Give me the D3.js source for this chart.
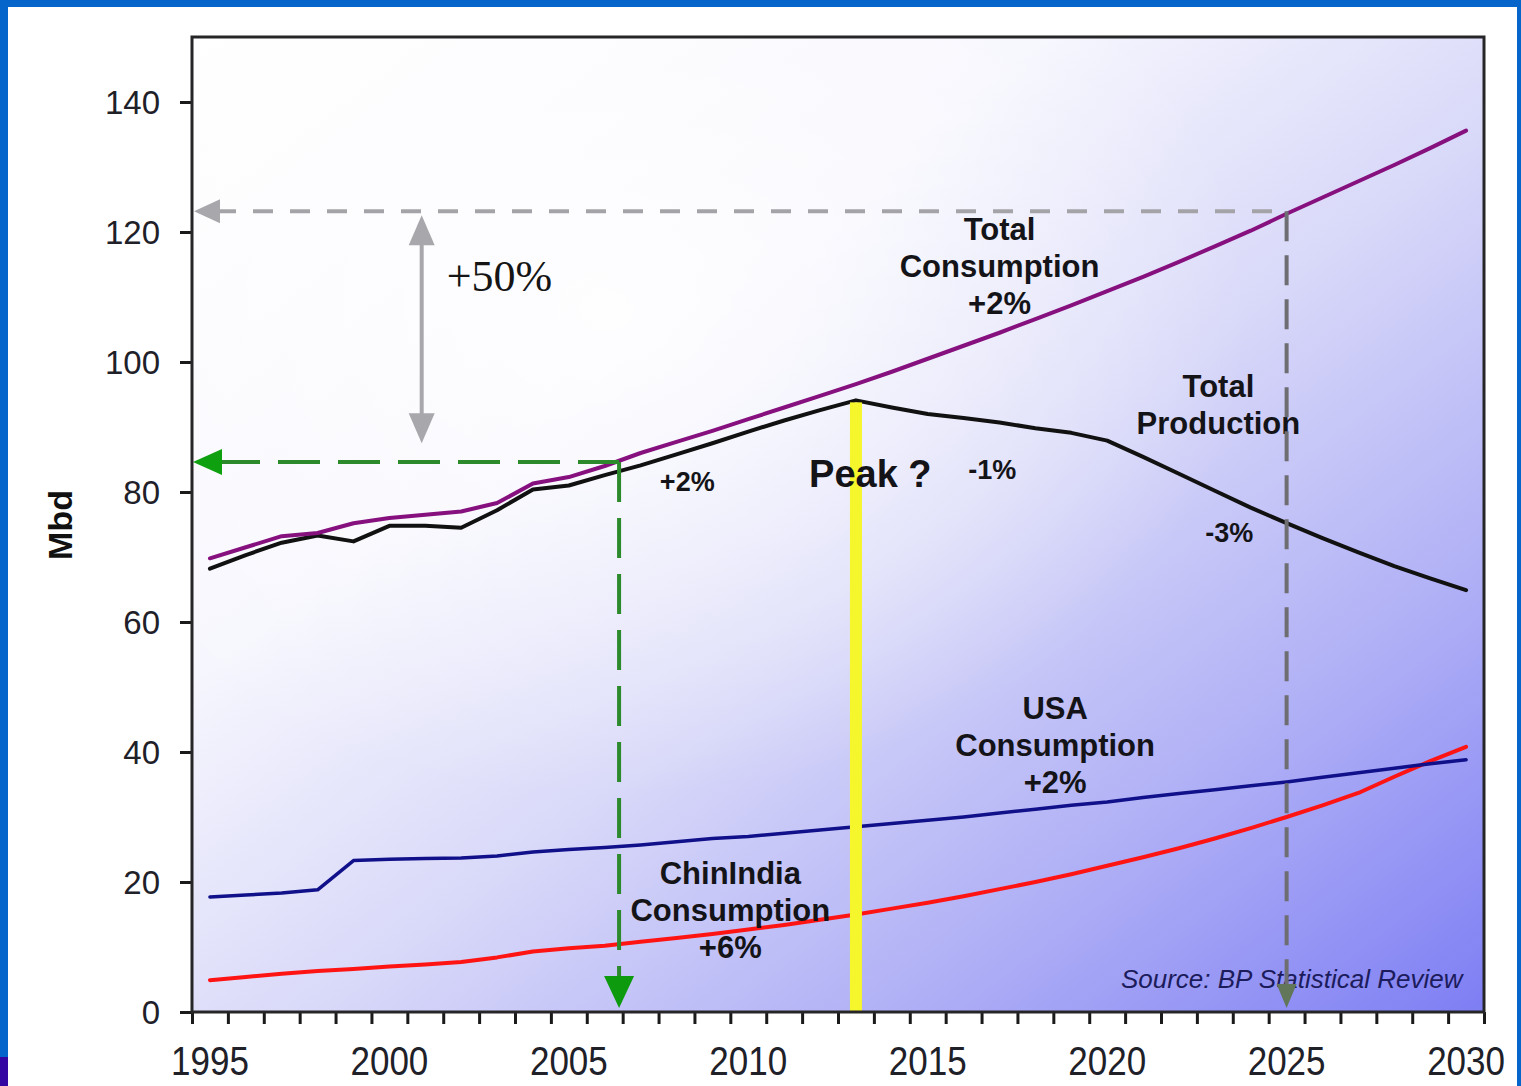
<!DOCTYPE html>
<html>
<head>
<meta charset="utf-8">
<script src="https://cdn.jsdelivr.net/npm/d3@7"></script>
<style>
  body { margin: 0; background: #ffffff; }
  svg { display: block; }
</style>
</head>
<body>
<svg id="chart" width="1521" height="1086"></svg>
<script>
// World oil consumption / production outlook, million barrels per day (Mbd)
const years = [1995, 1996, 1997, 1998, 1999, 2000, 2001, 2002, 2003, 2004, 2005,
               2006, 2007, 2008, 2009, 2010, 2011, 2012, 2013, 2014, 2015,
               2016, 2017, 2018, 2019, 2020, 2021, 2022, 2023, 2024, 2025,
               2026, 2027, 2028, 2029, 2030];

const totalConsumption = [69.8, 71.5, 73.2, 73.7, 75.2, 76.0, 76.5, 77.0, 78.3, 81.3, 82.3,
                          84.0, 86.0, 87.7, 89.4, 91.2, 93.0, 94.8, 96.6, 98.5, 100.5,
                          102.5, 104.5, 106.6, 108.7, 110.9, 113.1, 115.4, 117.8, 120.2, 122.8,
                          125.3, 127.8, 130.3, 132.9, 135.6];

const totalProduction = [68.2, 70.3, 72.2, 73.3, 72.4, 74.8, 74.8, 74.5, 77.2, 80.4, 81.0,
                         82.6, 84.1, 85.8, 87.5, 89.3, 91.0, 92.6, 94.1, 93.0, 92.0,
                         91.4, 90.7, 89.8, 89.1, 87.9, 85.4, 82.8, 80.2, 77.6, 75.2,
                         72.9, 70.7, 68.6, 66.7, 64.9];

const usaConsumption = [17.7, 18.0, 18.3, 18.8, 23.3, 23.5, 23.6, 23.7, 24.0, 24.6, 25.0,
                        25.3, 25.7, 26.2, 26.7, 27.0, 27.5, 28.0, 28.5, 29.0, 29.5,
                        30.0, 30.6, 31.2, 31.8, 32.3, 33.0, 33.6, 34.2, 34.8, 35.4,
                        36.1, 36.8, 37.5, 38.2, 38.8];

const chinIndiaConsumption = [4.9, 5.4, 5.9, 6.3, 6.6, 7.0, 7.3, 7.7, 8.4, 9.3, 9.8,
                              10.2, 10.8, 11.4, 12.0, 12.7, 13.4, 14.2, 15.0, 15.9, 16.8,
                              17.8, 18.9, 20.0, 21.2, 22.5, 23.8, 25.2, 26.7, 28.3, 30.0,
                              31.8, 33.7, 36.2, 38.6, 40.8];

const yTickValues = [0, 20, 40, 60, 80, 100, 120, 140];
const xTickLabels = [1995, 2000, 2005, 2010, 2015, 2020, 2025, 2030];

// Reference markers
const peakYear = 2013, peakLevel = 94.1;      // production peak
const nowYear = 2006.4, nowLevel = 84.6;      // current demand
const futureYear = 2025, futureLevel = 123.2; // demand in 2025
const bracketYear = 2000.9, bracketLow = 87.5; // +50% bracket

const SANS = "'Liberation Sans', Arial, Helvetica, sans-serif";
const SERIF = "'Liberation Serif', 'Times New Roman', serif";

const svg = d3.select("#chart");
const x = d3.scaleLinear().domain([1994.5, 2030.5]).range([192, 1484]);
const y = d3.scaleLinear().domain([0, 150]).range([1012, 37]);

const defs = svg.append("defs");
const bg = defs.append("linearGradient").attr("id", "plotBg")
  .attr("x1", 0).attr("y1", 0).attr("x2", 1).attr("y2", 1);
[[0, "#ffffff"], [0.33, "#f6f6fe"], [0.55, "#d8d8f9"], [0.78, "#aeaef6"], [1, "#7e7ef4"]]
  .forEach(([o, c]) => bg.append("stop").attr("offset", o).attr("stop-color", c));
const haze = defs.append("radialGradient").attr("id", "haze")
  .attr("cx", 0.32).attr("cy", 0.28).attr("r", 0.5);
haze.append("stop").attr("offset", 0).attr("stop-color", "#ffffff").attr("stop-opacity", 0.85);
haze.append("stop").attr("offset", 1).attr("stop-color", "#ffffff").attr("stop-opacity", 0);

// Slide border
svg.append("rect").attr("x", 0).attr("y", 0).attr("width", 1521).attr("height", 7).attr("fill", "#0565cb");
svg.append("rect").attr("x", 0).attr("y", 0).attr("width", 8).attr("height", 1086).attr("fill", "#0565cb");
svg.append("rect").attr("x", 1517).attr("y", 0).attr("width", 4).attr("height", 1086).attr("fill", "#0565cb");
svg.append("rect").attr("x", 0).attr("y", 1057).attr("width", 8).attr("height", 29).attr("fill", "#3407a2");

// Plot area
const [x0, x1] = x.range();
const [yb, yt] = y.range();
svg.append("rect").attr("x", x0).attr("y", yt).attr("width", x1 - x0).attr("height", yb - yt)
  .attr("fill", "url(#plotBg)");
svg.append("rect").attr("x", x0).attr("y", yt).attr("width", x1 - x0).attr("height", yb - yt)
  .attr("fill", "url(#haze)");

// Axes
const yAxis = svg.append("g").attr("transform", `translate(${x0},0)`)
  .call(d3.axisLeft(y).tickValues(yTickValues).tickSize(12).tickPadding(20));
yAxis.select(".domain").remove();
yAxis.selectAll(".tick line").attr("stroke", "#1a1a1a").attr("stroke-width", 3);
yAxis.selectAll(".tick text").attr("font-family", SANS).attr("font-size", 33)
  .attr("fill", "#202028").attr("dy", "0.36em");

const boundaries = d3.range(1994.5, 2030.6, 1);
const xAxis = svg.append("g").attr("transform", `translate(0,${yb})`)
  .call(d3.axisBottom(x).tickValues(boundaries).tickSize(12).tickFormat(""));
xAxis.select(".domain").remove();
xAxis.selectAll(".tick line").attr("stroke", "#1a1a1a").attr("stroke-width", 3);

svg.append("g").selectAll("text").data(xTickLabels).join("text")
  .attr("transform", d => `translate(${x(d)},1075) scale(1,1.18)`)
  .attr("text-anchor", "middle").attr("font-family", SANS).attr("font-size", 35)
  .attr("fill", "#202028").text(d => d);

svg.append("text").attr("transform", "translate(72,525) rotate(-90)")
  .attr("text-anchor", "middle").attr("font-family", SANS).attr("font-weight", "bold")
  .attr("font-size", 34).attr("fill", "#111").text("Mbd");

// Series lines
const line = d3.line().x((d, i) => x(years[i])).y(d => y(d));
const series = [
  { values: chinIndiaConsumption, color: "#ff1414", width: 4 },
  { values: usaConsumption, color: "#10108a", width: 3.5 },
  { values: totalProduction, color: "#111111", width: 4 },
  { values: totalConsumption, color: "#86107e", width: 4 }
];
svg.append("g").selectAll("path").data(series).join("path")
  .attr("d", d => line(d.values)).attr("fill", "none")
  .attr("stroke", d => d.color).attr("stroke-width", d => d.width)
  .attr("stroke-linejoin", "round").attr("stroke-linecap", "round");

// Peak marker
svg.append("rect").attr("x", x(peakYear) - 6).attr("y", y(peakLevel) + 2)
  .attr("width", 12).attr("height", yb - y(peakLevel) - 2).attr("fill", "#f6f62c");

// Grey: 2025 demand reference
const gy = y(futureLevel), gx = x(futureYear);
svg.append("line").attr("x1", x0 + 24).attr("x2", gx).attr("y1", gy).attr("y2", gy)
  .attr("stroke", "#a4a4a8").attr("stroke-width", 4).attr("stroke-dasharray", "20 17");
svg.append("path").attr("d", `M${x0 + 2},${gy} L${x0 + 28},${gy - 12} L${x0 + 28},${gy + 12} Z`)
  .attr("fill", "#a8a8ac");

// Green: current demand reference
const ny = y(nowLevel), nx = x(nowYear);
svg.append("line").attr("x1", x0 + 26).attr("x2", nx).attr("y1", ny).attr("y2", ny)
  .attr("stroke", "#2c8a2c").attr("stroke-width", 4).attr("stroke-dasharray", "42 18");
svg.append("path").attr("d", `M${x0 + 1},${ny} L${x0 + 30},${ny - 13} L${x0 + 30},${ny + 13} Z`)
  .attr("fill", "#0ea00e");
svg.append("line").attr("x1", nx).attr("x2", nx).attr("y1", ny).attr("y2", yb - 34)
  .attr("stroke", "#2c8a2c").attr("stroke-width", 4).attr("stroke-dasharray", "40 16");
svg.append("path").attr("d", `M${nx},${yb - 4} L${nx - 15},${yb - 36} L${nx + 15},${yb - 36} Z`)
  .attr("fill", "#0e9a0e");

// +50% bracket
const bx = x(bracketYear), bTop = gy + 4, bBot = y(bracketLow);
svg.append("line").attr("x1", bx).attr("x2", bx).attr("y1", bTop + 26).attr("y2", bBot - 26)
  .attr("stroke", "#a8a8ac").attr("stroke-width", 4);
svg.append("path").attr("d", `M${bx},${bTop} L${bx - 13},${bTop + 30} L${bx + 13},${bTop + 30} Z`)
  .attr("fill", "#a8a8ac");
svg.append("path").attr("d", `M${bx},${bBot} L${bx - 13},${bBot - 30} L${bx + 13},${bBot - 30} Z`)
  .attr("fill", "#a8a8ac");
svg.append("text").attr("x", bx + 25).attr("y", y(110.9)).attr("font-family", SERIF)
  .attr("font-size", 44).attr("fill", "#151515").text("+50%");

// Annotations
function label(lines, year, value, size, opts = {}) {
  const t = svg.append("text").attr("x", x(year)).attr("y", y(value))
    .attr("text-anchor", opts.anchor || "middle").attr("font-family", SANS)
    .attr("font-weight", opts.weight || "bold").attr("font-style", opts.style || "normal")
    .attr("font-size", size).attr("fill", opts.fill || "#141418");
  lines.forEach((s, i) => t.append("tspan").attr("x", x(year)).attr("dy", i ? 37 : 0).text(s));
}
label(["Total", "Consumption", "+2%"], 2017, 118.8, 31);
label(["Total", "Production"], 2023.1, 94.6, 31);
label(["+2%"], 2008.3, 80.2, 27);
label(["Peak ?"], 2013.4, 80.8, 38);
label(["-1%"], 2016.8, 82.0, 27);
label(["-3%"], 2023.4, 72.3, 27);
label(["USA", "Consumption", "+2%"], 2018.55, 45.1, 31);
label(["ChinIndia", "Consumption", "+6%"], 2009.5, 19.7, 31);
label(["Source: BP Statistical Review"], 2029.9, 3.7, 26,
  { anchor: "end", weight: "normal", style: "italic", fill: "#1c1c5c" });

// Grey vertical drop at 2025 (drawn over the labels)
svg.append("line").attr("x1", gx).attr("x2", gx).attr("y1", gy).attr("y2", yb - 28)
  .attr("stroke", "#6e6e72").attr("stroke-width", 4).attr("stroke-dasharray", "30 14");
svg.append("path").attr("d", `M${gx},${yb - 4} L${gx - 10},${yb - 28} L${gx + 10},${yb - 28} Z`)
  .attr("fill", "#62765a");

// Frame
svg.append("rect").attr("x", x0).attr("y", yt).attr("width", x1 - x0).attr("height", yb - yt)
  .attr("fill", "none").attr("stroke", "#262628").attr("stroke-width", 3);
</script>
</body>
</html>
